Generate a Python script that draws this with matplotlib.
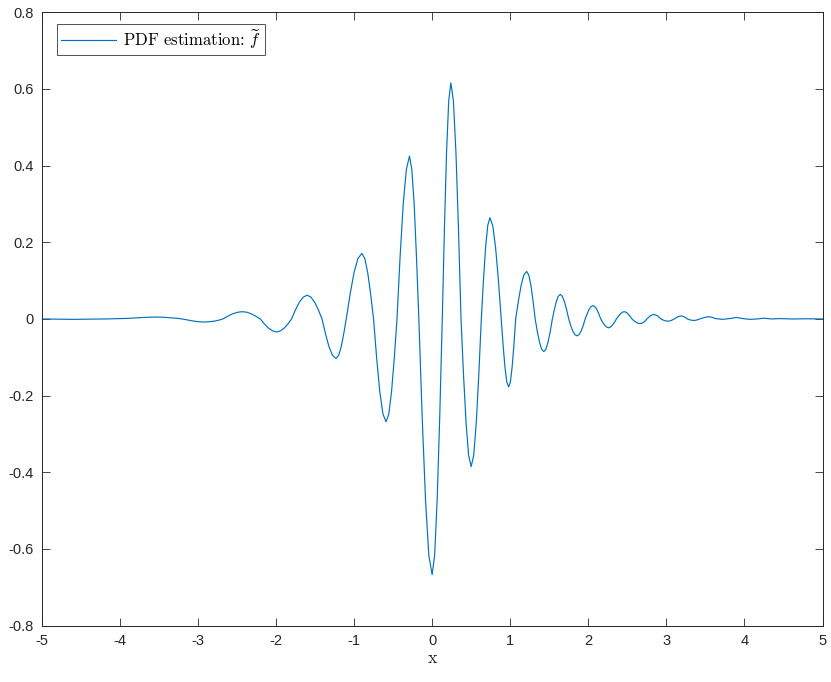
import matplotlib
matplotlib.use("Agg")
import matplotlib.pyplot as plt

plt.rcParams['font.family'] = ['Liberation Sans', 'DejaVu Sans']
plt.rcParams['mathtext.fontset'] = 'cm'
plt.rcParams['axes.unicode_minus'] = False

x_vals = [-5.0, -4.6, -4.2, -3.9, -3.7, -3.53, -3.45, -3.37, -3.28, -3.2,
          -3.12, -3.05, -2.98, -2.91, -2.85, -2.79, -2.73, -2.68,
          -2.62, -2.555, -2.49, -2.43, -2.37, -2.315, -2.26, -2.2,
          -2.1475, -2.095, -2.0425, -1.99, -1.9425, -1.895, -1.8475, -1.8,
          -1.75, -1.7, -1.65, -1.6, -1.5525, -1.505, -1.4575, -1.41,
          -1.365, -1.32, -1.275, -1.23, -1.1975, -1.165, -1.1325, -1.1,
          -1.05, -1.0, -0.95, -0.9, -0.8625, -0.825, -0.7875, -0.75,
          -0.71, -0.67, -0.63, -0.59, -0.555, -0.52, -0.485, -0.45,
          -0.41, -0.37, -0.33, -0.29, -0.26, -0.23, -0.2, -0.17,
          -0.1275, -0.085, -0.0425, 0.0, 0.0325, 0.065, 0.0975, 0.13,
          0.1575, 0.185, 0.2125, 0.24, 0.2725, 0.305, 0.3375, 0.37,
          0.4025, 0.435, 0.4675, 0.5, 0.5325, 0.565, 0.5975, 0.63,
          0.6575, 0.685, 0.7125, 0.74, 0.776, 0.8125, 0.849, 0.885,
          0.909, 0.9325, 0.956, 0.98, 1.0025, 1.025, 1.0475, 1.07,
          1.105, 1.14, 1.175, 1.21, 1.2375, 1.265, 1.2925, 1.32,
          1.3475, 1.375, 1.4025, 1.43, 1.4575, 1.485, 1.5125, 1.54,
          1.565, 1.59, 1.615, 1.64, 1.6675, 1.695, 1.7225, 1.75,
          1.775, 1.8, 1.83, 1.855, 1.88, 1.91, 1.935, 1.96,
          1.985, 2.01, 2.035, 2.06, 2.085, 2.11, 2.135, 2.16,
          2.185, 2.21, 2.235, 2.26, 2.285, 2.31, 2.335, 2.36,
          2.385, 2.41, 2.435, 2.46, 2.485, 2.51, 2.535, 2.56,
          2.585, 2.61, 2.635, 2.66, 2.685, 2.71, 2.73, 2.75,
          2.795, 2.84, 2.885, 2.93, 2.975, 3.02, 3.06, 3.1,
          3.145, 3.19, 3.23, 3.27, 3.315, 3.36, 3.4, 3.44,
          3.49, 3.54, 3.59, 3.63, 3.72, 3.81, 3.9, 3.98,
          4.07, 4.16, 4.25, 4.35, 4.45, 4.6, 4.8, 5.0]

pdf_vals = [0.0, -0.001, 0.0, 0.0015, 0.004, 0.005, 0.0046, 0.0035, 0.002, 0.0,
            -0.003, -0.0057, -0.0074, -0.008, -0.007, -0.0057, -0.003, 0.0,
            0.007, 0.0134, 0.0175, 0.019, 0.0175, 0.0134, 0.0073, 0.0,
            -0.013, -0.024, -0.031, -0.034, -0.031, -0.024, -0.013, 0.0,
            0.024, 0.044, 0.057, 0.062, 0.057, 0.044, 0.024, 0.0,
            -0.039, -0.073, -0.095, -0.103, -0.095, -0.073, -0.039, 0.0,
            0.065, 0.121, 0.158, 0.171, 0.158, 0.121, 0.065, 0.0,
            -0.103, -0.19, -0.248, -0.268, -0.248, -0.19, -0.103, 0.0,
            0.163, 0.30, 0.39, 0.425, 0.39, 0.30, 0.16, 0.0,
            -0.255, -0.47, -0.616, -0.667, -0.616, -0.47, -0.255, 0.0,
            0.236, 0.435, 0.569, 0.616, 0.569, 0.435, 0.236, 0.0,
            -0.147, -0.272, -0.356, -0.385, -0.356, -0.272, -0.147, 0.0,
            0.101, 0.187, 0.244, 0.264, 0.244, 0.187, 0.101, 0.0,
            -0.068, -0.125, -0.164, -0.177, -0.164, -0.125, -0.068, 0.0,
            0.047, 0.088, 0.115, 0.124, 0.115, 0.088, 0.047, 0.0,
            -0.033, -0.06, -0.079, -0.085, -0.079, -0.06, -0.033, 0.0,
            0.024, 0.045, 0.059, 0.064, 0.059, 0.045, 0.024, 0.0,
            -0.017, -0.031, -0.041, -0.044, -0.041, -0.031, -0.017, 0.0,
            0.013, 0.025, 0.032, 0.035, 0.032, 0.025, 0.013, 0.0,
            -0.009, -0.016, -0.021, -0.023, -0.021, -0.016, -0.009, 0.0,
            0.007, 0.013, 0.0175, 0.019, 0.0175, 0.013, 0.007, 0.0,
            -0.0046, -0.0085, -0.011, -0.012, -0.011, -0.0085, -0.0046, 0.0,
            0.0085, 0.012, 0.0085, 0.0, -0.0042, -0.006, -0.0042, 0.0,
            0.0057, 0.008, 0.0057, 0.0, -0.003, -0.004, -0.002, 0.001,
            0.004, 0.006, 0.004, 0.001, -0.001, 0.001, 0.004, 0.001,
            -0.001, 0.0, 0.002, 0.0, 0.001, 0.0, 0.0005, 0.0]

x_ticks = [-5, -4, -3, -2, -1, 0, 1, 2, 3, 4, 5]
x_tick_labels = ['-5', '-4', '-3', '-2', '-1', '0', '1', '2', '3', '4', '5']
y_ticks = [-0.8, -0.6, -0.4, -0.2, 0, 0.2, 0.4, 0.6, 0.8]
y_tick_labels = ['-0.8', '-0.6', '-0.4', '-0.2', '0', '0.2', '0.4', '0.6', '0.8']

fig = plt.figure(figsize=(8.31, 6.82), dpi=100)
ax = fig.add_axes([0.0502, 0.0826, 0.9396, 0.8994])
ax.plot(x_vals, pdf_vals, color='#0072BD', lw=0.85,
        label=r'PDF estimation: $\widetilde{f}$')
ax.set_xlim(-5, 5)
ax.set_ylim(-0.8, 0.8)
ax.set_xticks(x_ticks)
ax.set_xticklabels(x_tick_labels)
ax.set_yticks(y_ticks)
ax.set_yticklabels(y_tick_labels)
ax.tick_params(direction='in', length=5.5, width=0.6, colors='#262626',
               labelsize=10.5, top=True, right=True, pad=6)
for s in ax.spines.values():
    s.set_color('#262626')
    s.set_linewidth(0.7)
ax.set_xlabel('x', fontsize=13, color='#262626', labelpad=2, family='cmr10')

leg = ax.legend(loc='upper left', bbox_to_anchor=(0.0193, 0.981),
                prop={'family': 'cmr10', 'size': 12},
                frameon=True, fancybox=False, handlelength=3.3,
                borderaxespad=0, borderpad=0.25, handletextpad=0.4)
leg.get_frame().set_edgecolor('#262626')
leg.get_frame().set_linewidth(0.7)

fig.savefig('out.png', dpi=100)
